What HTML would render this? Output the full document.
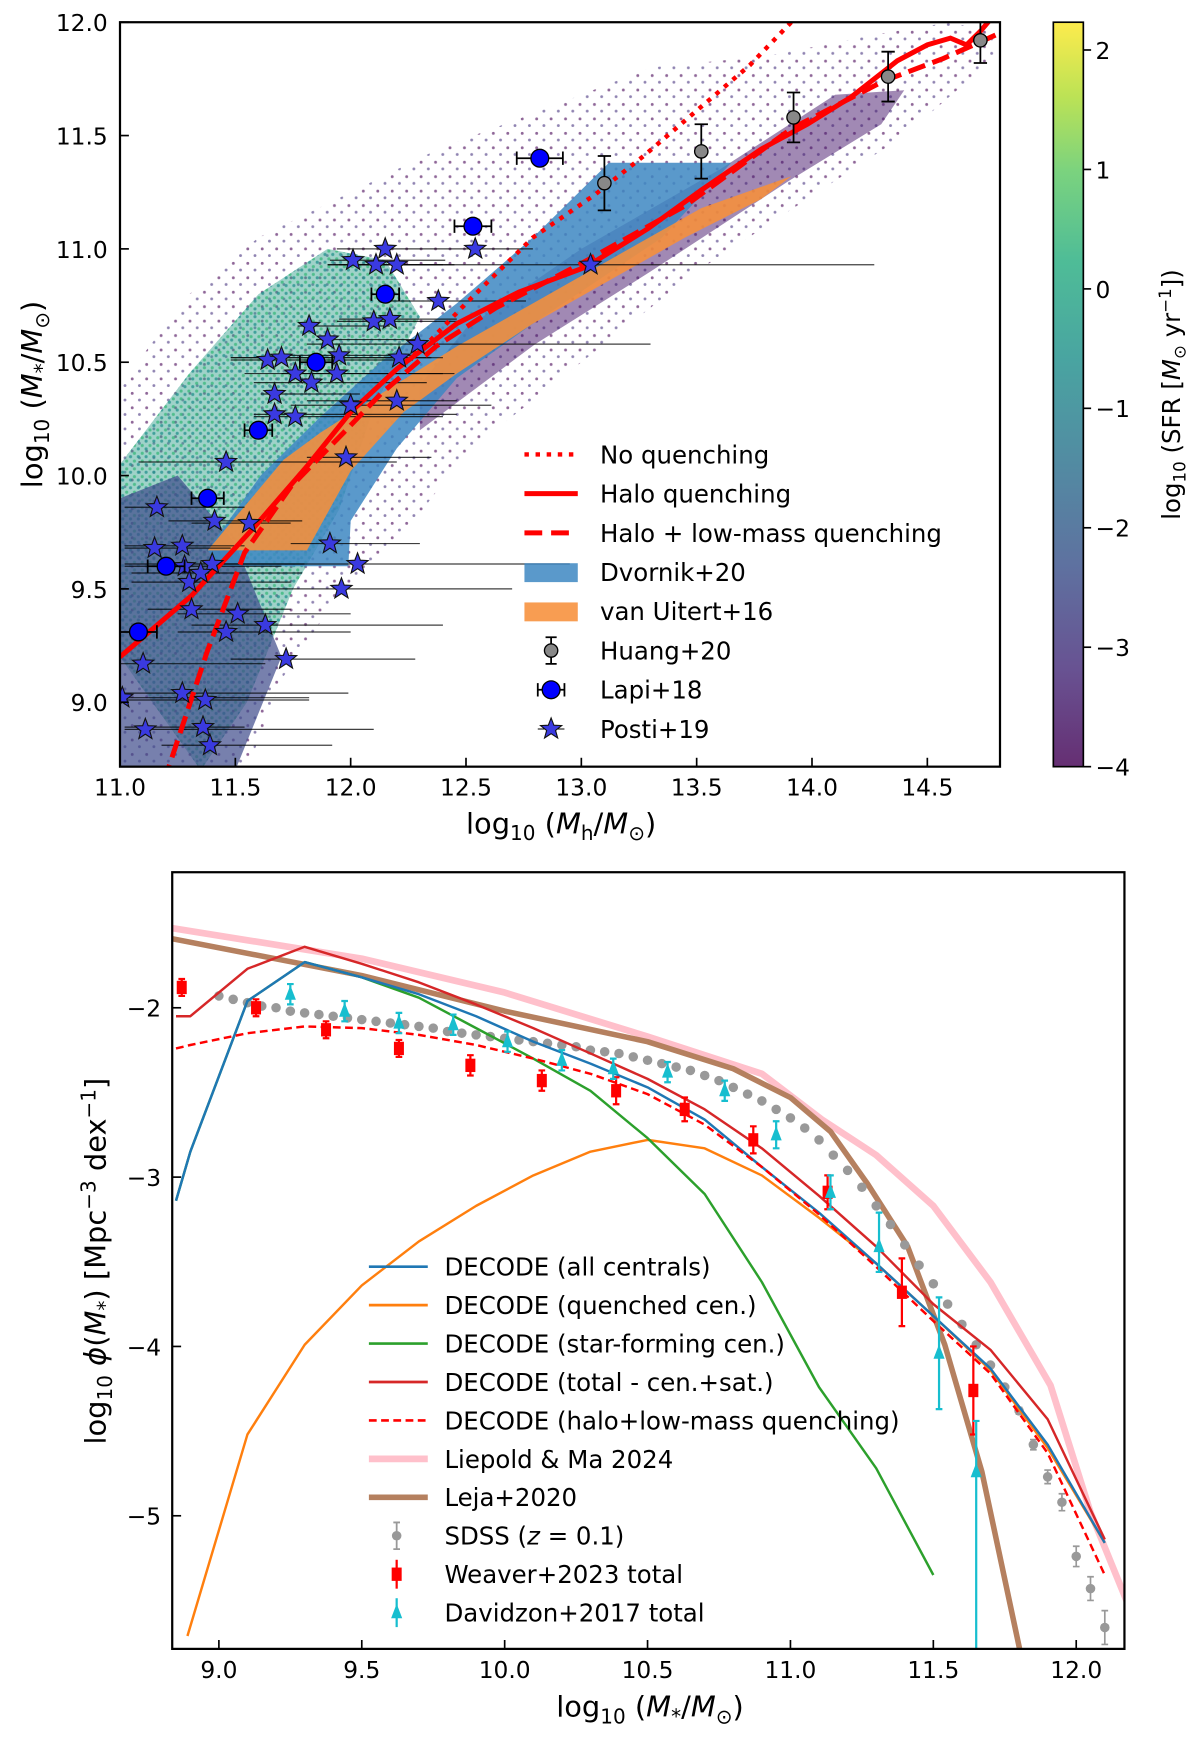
<!DOCTYPE html>
<html><head><meta charset="utf-8">
<style>
html,body{margin:0;padding:0;background:#fff;}
svg{display:block;}
text{font-family:"DejaVu Sans","Liberation Sans",sans-serif;fill:#000;}
</style></head>
<body>
<svg id="fig" xmlns="http://www.w3.org/2000/svg" width="1200" height="1746" viewBox="0 0 1080 1571.4">
<defs>
<clipPath id="clipTop"><rect x="108" y="20" width="792" height="670"/></clipPath>
<clipPath id="clipBot"><rect x="155" y="785" width="857" height="699"/></clipPath>
<linearGradient id="viridis" x1="0" y1="1" x2="0" y2="0">
<stop offset="0" stop-color="#440154"/><stop offset="0.13" stop-color="#472c7a"/>
<stop offset="0.27" stop-color="#3b528b"/><stop offset="0.41" stop-color="#2c728e"/>
<stop offset="0.55" stop-color="#21918c"/><stop offset="0.68" stop-color="#28ae80"/>
<stop offset="0.8" stop-color="#5ec962"/><stop offset="0.9" stop-color="#addc30"/>
<stop offset="1" stop-color="#fde725"/></linearGradient>
<pattern id="dotsPurple" width="13" height="13" patternUnits="userSpaceOnUse"><circle cx="2" cy="3" r="1.3" fill="#440154"/><circle cx="8.5" cy="9" r="1.3" fill="#46327e"/></pattern>
<pattern id="dotsGreen" width="7" height="7" patternUnits="userSpaceOnUse"><circle cx="2" cy="2" r="1.4" fill="#35b779"/><circle cx="5.5" cy="5" r="1.4" fill="#21918c"/></pattern>
</defs>
<g id="top">
  <g id="cloud" clip-path="url(#clipTop)"></g>
  <g id="topMarks" clip-path="url(#clipTop)"></g>
  <rect x="108" y="20" width="792" height="670" fill="none" stroke="#000" stroke-width="2"/>
  <g id="topAxes"></g>
  <text x="505" y="750" text-anchor="middle" font-size="26">log<tspan dy="6" font-size="18">10</tspan><tspan dy="-6"> (</tspan><tspan font-style="italic">M</tspan><tspan dy="6" font-size="18">h</tspan><tspan dy="-6">/</tspan><tspan font-style="italic">M</tspan><tspan dy="6" font-size="18">⊙</tspan><tspan dy="-6">)</tspan></text>
  <text transform="translate(38,355) rotate(-90)" text-anchor="middle" font-size="26">log<tspan dy="6" font-size="18">10</tspan><tspan dy="-6"> (</tspan><tspan font-style="italic">M</tspan><tspan dy="6" font-size="18">*</tspan><tspan dy="-6">/</tspan><tspan font-style="italic">M</tspan><tspan dy="6" font-size="18">⊙</tspan><tspan dy="-6">)</tspan></text>
  <g id="topLegend"></g>
  <rect x="948" y="20" width="27" height="670" fill="url(#viridis)" opacity="0.82"/>
  <rect x="948" y="20" width="27" height="670" fill="none" stroke="#000" stroke-width="1.5"/>
  <g id="cbAxis"></g>
  <text transform="translate(1062,355) rotate(-90)" text-anchor="middle" font-size="22">log<tspan dy="5" font-size="15">10</tspan><tspan dy="-5"> (SFR [</tspan><tspan font-style="italic">M</tspan><tspan dy="5" font-size="15">⊙</tspan><tspan dy="-5"> yr</tspan><tspan dy="-8" font-size="15">−1</tspan><tspan dy="8">])</tspan></text>
</g>
<g id="bot">
  <g id="botMarks" clip-path="url(#clipBot)"></g>
  <rect x="155" y="785" width="857" height="699" fill="none" stroke="#000" stroke-width="2"/>
  <g id="botAxes"></g>
  <text x="585" y="1545" text-anchor="middle" font-size="26">log<tspan dy="6" font-size="18">10</tspan><tspan dy="-6"> (</tspan><tspan font-style="italic">M</tspan><tspan dy="6" font-size="18">*</tspan><tspan dy="-6">/</tspan><tspan font-style="italic">M</tspan><tspan dy="6" font-size="18">⊙</tspan><tspan dy="-6">)</tspan></text>
  <text transform="translate(95,1135) rotate(-90)" text-anchor="middle" font-size="26">log<tspan dy="6" font-size="18">10</tspan><tspan dy="-6"> </tspan><tspan font-style="italic">ϕ</tspan>(<tspan font-style="italic">M</tspan><tspan dy="6" font-size="18">*</tspan><tspan dy="-6">) [Mpc</tspan><tspan dy="-9" font-size="18">−3</tspan><tspan dy="9"> dex</tspan><tspan dy="-9" font-size="18">−1</tspan><tspan dy="9">]</tspan></text>
  <g id="botLegend"></g>
</g>
</svg>
<script>
// ---------- TOP PANEL DATA ----------
const lapiX = [11.08, 11.20, 11.38, 11.60, 11.85, 12.15, 12.53, 12.82];
const lapiY = [9.31, 9.60, 9.90, 10.20, 10.50, 10.80, 11.10, 11.40];
const lapiXerr = [0.08, 0.08, 0.07, 0.06, 0.07, 0.06, 0.08, 0.1];
const huangX = [13.10, 13.52, 13.92, 14.33, 14.73];
const huangY = [11.29, 11.43, 11.58, 11.76, 11.92];
const huangYerr = [0.12, 0.12, 0.11, 0.11, 0.10];
const postiX = [12.01,12.15,12.20,12.11,12.54,12.38,13.04,11.82,11.90,11.95,12.10,12.17,12.29,12.21,11.64,11.70,11.76,11.83,11.94,11.67,11.67,11.76,12.00,12.20,11.98,11.46,11.16,11.41,11.56,11.15,11.27,11.28,11.40,11.30,11.35,11.91,12.03,11.96,11.31,11.51,11.63,11.46,11.72,11.10,11.27,11.37,11.01,11.11,11.36,11.39];
const postiY = [10.95,11.00,10.93,10.93,11.00,10.77,10.93,10.66,10.60,10.53,10.68,10.69,10.58,10.52,10.51,10.52,10.45,10.41,10.45,10.36,10.27,10.26,10.31,10.33,10.08,10.06,9.86,9.80,9.79,9.68,9.69,9.60,9.61,9.53,9.57,9.70,9.61,9.50,9.41,9.39,9.34,9.31,9.19,9.17,9.04,9.01,9.02,8.88,8.89,8.81];
const postiLo = [11.91,11.94,11.95,11.90,12.43,12.13,11.90,11.77,11.85,11.70,11.94,11.95,11.81,11.48,11.48,11.48,11.54,11.58,11.70,11.61,11.58,11.58,11.74,11.81,11.81,11.08,11.02,11.21,11.31,11.02,11.02,11.02,11.02,11.05,11.05,11.74,11.44,11.58,11.12,11.25,11.31,11.25,11.48,11.00,11.02,11.02,11.00,11.02,11.02,11.18];
const postiHi = [12.41,12.43,12.45,12.40,12.79,12.76,14.27,12.17,12.30,12.28,12.48,12.46,13.30,12.40,12.27,12.35,12.40,12.33,12.45,12.04,12.46,12.40,12.61,12.46,12.35,12.20,11.54,11.79,11.74,11.48,11.54,11.70,11.80,11.74,11.79,12.30,12.95,12.70,11.74,12.00,12.40,12.00,12.28,11.63,11.99,11.82,11.82,12.10,11.54,11.92];
const noqX = [11.0,11.31,11.58,11.81,12.0,12.2,12.33,12.5,12.79,13.06,13.27,13.5,13.73,13.91,13.95];
const noqY = [9.2,9.47,9.77,10.04,10.28,10.47,10.58,10.76,11.05,11.24,11.41,11.61,11.81,12.0,12.04];
const haloX = [11.0,11.31,11.58,11.81,12.0,12.2,12.46,12.73,13.02,13.29,13.52,13.78,13.98,14.17,14.37,14.5,14.6,14.67,14.73,14.78,14.82];
const haloY = [9.2,9.47,9.77,10.04,10.28,10.47,10.67,10.81,10.92,11.09,11.26,11.44,11.55,11.67,11.83,11.9,11.93,11.90,11.96,12.02,12.06];
const lowmX = [11.19,11.21,11.38,11.54,11.74,11.97,12.13,12.37,12.63,12.99,13.45,13.91,14.31,14.57,14.81];
const lowmY = [8.65,8.71,9.23,9.66,9.95,10.19,10.36,10.57,10.74,10.93,11.19,11.53,11.74,11.84,11.95];
const dvornikX = [11.43,11.99,12.0,12.2,12.46,12.79,13.35,13.65,13.12,12.79,12.46,12.13,11.87,11.61,11.38];
const dvornikY = [9.60,9.60,9.80,10.12,10.43,10.67,11.05,11.38,11.38,11.05,10.76,10.50,10.26,10.0,9.67];
const uitertX = [11.38,11.81,12.0,12.23,12.46,12.79,13.12,13.45,13.78,13.91,13.52,13.12,12.79,12.46,12.13,11.87,11.71];
const uitertY = [9.67,9.67,10.02,10.28,10.45,10.67,10.86,11.05,11.22,11.32,11.18,10.95,10.76,10.57,10.36,10.19,10.07];
const cbTicks = [-4,-3,-2,-1,0,1,2];
const topXTicks = [11.0,11.5,12.0,12.5,13.0,13.5,14.0,14.5];
const topYTicks = [9.0,9.5,10.0,10.5,11.0,11.5,12.0];
// cloud envelopes (density regions of the scatter)
const envAllX = [11.0,11.0,11.3,11.6,12.0,12.4,12.8,13.3,13.8,14.3,14.6,14.8,14.8,14.4,13.5,13.0,12.5,12.2,11.9,11.7,11.55];
const envAllY = [8.7,10.4,10.8,11.05,11.25,11.45,11.6,11.8,11.85,11.95,12.0,11.95,11.85,11.5,10.9,10.5,10.1,9.7,9.4,9.1,8.7];
const envGreenX = [11.0,11.0,11.3,11.6,11.9,12.15,12.3,12.1,11.95,11.75,11.55,11.35];
const envGreenY = [9.2,10.05,10.45,10.8,11.0,10.95,10.7,10.3,9.85,9.5,9.0,8.7];
const envPurpleX = [12.3,12.8,13.3,13.9,14.3,14.4,14.1,13.6,13.0,12.5,12.3];
const envPurpleY = [10.2,10.58,10.9,11.3,11.55,11.7,11.68,11.35,11.0,10.65,10.4];
const envLowX = [11.0,11.0,11.25,11.5,11.7,11.5,11.3];
const envLowY = [8.7,9.9,10.0,9.7,9.2,8.7,8.7];

// ---------- BOTTOM PANEL DATA ----------
const decX = [8.85,8.9,9.1,9.3,9.5,9.7,9.9,10.1,10.3,10.5,10.7,10.9,11.1,11.3,11.5,11.7,11.9,12.1];
const allCen = [-3.14,-2.85,-1.96,-1.73,-1.82,-1.92,-2.05,-2.20,-2.33,-2.47,-2.66,-2.94,-3.21,-3.51,-3.82,-4.13,-4.58,-5.16];
const sfCenX = [8.85,8.9,9.1,9.3,9.5,9.7,9.9,10.1,10.3,10.5,10.7,10.9,11.1,11.3,11.5];
const sfCen = [-3.14,-2.85,-1.96,-1.73,-1.82,-1.94,-2.12,-2.30,-2.49,-2.77,-3.10,-3.62,-4.24,-4.72,-5.35];
const qCenX = [8.89,9.1,9.3,9.5,9.7,9.9,10.1,10.3,10.5,10.7,10.9,11.1,11.3,11.5,11.7,11.9,12.1];
const qCen = [-5.71,-4.52,-3.99,-3.64,-3.38,-3.17,-2.99,-2.85,-2.78,-2.83,-2.99,-3.24,-3.51,-3.82,-4.14,-4.60,-5.16];
const totX = [8.85,8.9,9.1,9.3,9.5,9.7,9.9,10.1,10.3,10.5,10.7,10.9,11.1,11.3,11.5,11.7,11.9,12.1];
const totY = [-2.05,-2.05,-1.77,-1.64,-1.74,-1.85,-1.98,-2.12,-2.27,-2.42,-2.60,-2.83,-3.11,-3.41,-3.75,-4.02,-4.43,-5.14];
const lmqY = [-2.24,-2.22,-2.15,-2.11,-2.12,-2.16,-2.22,-2.30,-2.39,-2.51,-2.69,-2.94,-3.22,-3.53,-3.85,-4.16,-4.63,-5.35];
const liepX = [8.8,9.5,10.0,10.5,10.9,11.11,11.3,11.5,11.7,11.91,12.05,12.2];
const liepY = [-1.52,-1.71,-1.91,-2.17,-2.39,-2.66,-2.87,-3.17,-3.62,-4.23,-4.98,-5.6];
const lejaX = [8.8,9.5,10.0,10.5,10.8,11.0,11.14,11.27,11.41,11.54,11.67,11.81];
const lejaY = [-1.58,-1.81,-2.02,-2.2,-2.36,-2.53,-2.73,-3.04,-3.41,-3.99,-4.74,-5.85];
const sdssX = [9.00,9.05,9.10,9.15,9.20,9.25,9.30,9.35,9.40,9.45,9.50,9.55,9.60,9.65,9.70,9.75,9.80,9.85,9.90,9.95,10.00,10.05,10.10,10.15,10.20,10.25,10.30,10.35,10.40,10.45,10.50,10.55,10.60,10.65,10.70,10.75,10.80,10.85,10.90,10.95,11.00,11.05,11.10,11.15,11.20,11.25,11.30,11.35,11.40,11.45,11.50,11.55,11.60,11.65,11.70,11.75,11.80,11.85,11.90,11.95,12.00,12.05,12.10];
const sdssY = [-1.93,-1.95,-1.97,-1.99,-2.00,-2.02,-2.03,-2.04,-2.05,-2.06,-2.07,-2.08,-2.09,-2.10,-2.11,-2.12,-2.14,-2.15,-2.16,-2.17,-2.18,-2.19,-2.20,-2.21,-2.22,-2.23,-2.25,-2.26,-2.27,-2.29,-2.31,-2.33,-2.35,-2.37,-2.40,-2.43,-2.47,-2.51,-2.55,-2.60,-2.65,-2.71,-2.78,-2.87,-2.96,-3.06,-3.17,-3.28,-3.40,-3.52,-3.63,-3.75,-3.87,-3.99,-4.11,-4.24,-4.38,-4.58,-4.77,-4.92,-5.24,-5.43,-5.66];
const sdssErr = [0,0,0,0,0,0,0,0,0,0,0,0,0,0,0,0,0,0,0,0,0,0,0,0,0,0,0,0,0,0,0,0,0,0,0,0,0,0,0,0,0,0,0,0,0,0,0,0,0,0,0,0,0,0,0,0,0.02,0.03,0.04,0.05,0.06,0.07,0.1];
const weavX = [8.87,9.13,9.375,9.63,9.88,10.13,10.39,10.63,10.87,11.13,11.39,11.64];
const weavY = [-1.88,-2.00,-2.13,-2.24,-2.34,-2.43,-2.49,-2.60,-2.78,-3.09,-3.68,-4.26];
const weavErr = [0.05,0.05,0.05,0.05,0.06,0.06,0.08,0.07,0.08,0.1,0.2,0.26];
const davX = [9.25,9.44,9.63,9.82,10.01,10.2,10.38,10.57,10.77,10.95,11.14,11.31,11.52,11.65];
const davY = [-1.92,-2.02,-2.09,-2.10,-2.20,-2.31,-2.36,-2.38,-2.49,-2.75,-3.09,-3.41,-4.04,-4.74];
const davErrUp = [0.06,0.06,0.06,0.06,0.06,0.06,0.06,0.06,0.06,0.08,0.1,0.2,0.33,0.3];
const davErrDn = [0.06,0.06,0.06,0.06,0.06,0.06,0.06,0.06,0.06,0.08,0.1,0.15,0.33,2.0];
const botXTicks = [9.0,9.5,10.0,10.5,11.0,11.5,12.0];
const botYTicks = [-2,-3,-4,-5];

// ---------- scales ----------
const X1 = v => 108 + (v - 11) * 207.6;
const Y1 = v => 20 + (12 - v) * 204;
const X2 = v => 197 + (v - 9) * 257.2;
const Y2 = v => 907 - (v + 2) * 152.4;
const CB = v => 690 - (v + 4) * 107.5;
const NS = 'http://www.w3.org/2000/svg';
function mk(tag, attrs, parent){ const e=document.createElementNS(NS,tag); for(const k in attrs) e.setAttribute(k, attrs[k]); parent.appendChild(e); return e; }
function pts(xs, ys, fx, fy){ return xs.map((x,i)=>fx(x).toFixed(1)+','+fy(ys[i]).toFixed(1)).join(' '); }
function starPath(cx, cy, R){ let d=''; for(let i=0;i<10;i++){ const r=i%2?R*0.42:R; const a=-Math.PI/2+i*Math.PI/5; d+=(i?'L':'M')+(cx+r*Math.cos(a)).toFixed(1)+','+(cy+r*Math.sin(a)).toFixed(1);} return d+'Z'; }

const cloud = document.getElementById('cloud');
const tm = document.getElementById('topMarks');
const ta = document.getElementById('topAxes');
const tl = document.getElementById('topLegend');
const bm = document.getElementById('botMarks');
const ba = document.getElementById('botAxes');
const bl = document.getElementById('botLegend');
const cba = document.getElementById('cbAxis');

let e;
e = mk('polygon', {points: pts(envAllX, envAllY, X1, Y1), fill: 'url(#dotsPurple)', opacity: 0.6}, cloud);


e = mk('polygon', {points: pts(envGreenX, envGreenY, X1, Y1), fill: '#2a9c88', opacity: 0.45}, cloud);


e = mk('polygon', {points: pts(envGreenX, envGreenY, X1, Y1), fill: 'url(#dotsGreen)', opacity: 0.75}, cloud);


e = mk('polygon', {points: pts(envLowX, envLowY, X1, Y1), fill: '#3d4a8a', opacity: 0.7}, cloud);


e = mk('polygon', {points: pts(envPurpleX, envPurpleY, X1, Y1), fill: '#44136a', opacity: 0.5}, cloud);



e = mk('polygon', {points: pts(dvornikX, dvornikY, X1, Y1), fill: '#3d87c2', opacity: 0.85}, tm);


e = mk('polygon', {points: pts(uitertX, uitertY, X1, Y1), fill: '#f7903a', opacity: 0.88}, tm);



postiX.forEach((x,i)=>{
  const l = mk('line', {x1: X1(postiLo[i]), x2: X1(postiHi[i]), y1: Y1(postiY[i]), y2: Y1(postiY[i]), stroke: '#000', 'stroke-width': 1.1, opacity: 0.75}, tm);
  
  
});
e = mk('polyline', {points: pts(noqX, noqY, X1, Y1), fill: 'none', stroke: '#ff0000', 'stroke-width': 4, 'stroke-dasharray': '4 6'}, tm);


e = mk('polyline', {points: pts(haloX, haloY, X1, Y1), fill: 'none', stroke: '#ff0000', 'stroke-width': 4.5}, tm);


e = mk('polyline', {points: pts(lowmX, lowmY, X1, Y1), fill: 'none', stroke: '#ff0000', 'stroke-width': 4.5, 'stroke-dasharray': '16 7'}, tm);


postiX.forEach((x,i)=>{
  const s = mk('path', {d: starPath(X1(x), Y1(postiY[i]), 10), fill: '#3a3ae0', stroke: '#111', 'stroke-width': 1}, tm);
  
  
});
lapiX.forEach((x,i)=>{
  const y = Y1(lapiY[i]), x0 = X1(x - lapiXerr[i]), x1 = X1(x + lapiXerr[i]);
  const g = mk('path', {d: `M${x0},${y}H${x1}M${x0},${y-6}V${y+6}M${x1},${y-6}V${y+6}`, stroke: '#000', 'stroke-width': 1.6, fill: 'none'}, tm);
  
  
  const c = mk('circle', {cx: X1(x), cy: y, r: 8, fill: '#0000ff', stroke: '#000', 'stroke-width': 1.2}, tm);
  
  
});
huangX.forEach((x,i)=>{
  const cx = X1(x), y0 = Y1(huangY[i] + huangYerr[i]), y1 = Y1(huangY[i] - huangYerr[i]);
  const g = mk('path', {d: `M${cx},${y0}V${y1}M${cx-6},${y0}H${cx+6}M${cx-6},${y1}H${cx+6}`, stroke: '#000', 'stroke-width': 1.6, fill: 'none'}, tm);
  
  
  const c = mk('circle', {cx: cx, cy: Y1(huangY[i]), r: 6, fill: '#888', stroke: '#000', 'stroke-width': 1.2}, tm);
  
  
});

topXTicks.forEach(v=>{
  const t = mk('line', {x1: X1(v), x2: X1(v), y1: 690, y2: 682, stroke: '#000', 'stroke-width': 1.5}, ta);
  
  
  const s = mk('text', {x: X1(v), y: 716, 'text-anchor': 'middle', 'font-size': 21}, ta);
  s.textContent = v.toFixed(1);
  
  
});
topYTicks.forEach(v=>{
  const t = mk('line', {x1: 108, x2: 116, y1: Y1(v), y2: Y1(v), stroke: '#000', 'stroke-width': 1.5}, ta);
  
  
  const s = mk('text', {x: 97, y: Y1(v) + 8, 'text-anchor': 'end', 'font-size': 21}, ta);
  s.textContent = v.toFixed(1);
  
  
});
cbTicks.forEach(v=>{
  const t = mk('line', {x1: 975, x2: 982, y1: CB(v), y2: CB(v), stroke: '#000', 'stroke-width': 1.5}, cba);
  
  
  const s = mk('text', {x: 986, y: CB(v) + 8, 'font-size': 21}, cba);
  s.textContent = v < 0 ? '−' + Math.abs(v) : String(v);
  
  
});

const topLegLabels = ['No quenching','Halo quenching','Halo + low-mass quenching','Dvornik+20','van Uitert+16','Huang+20','Lapi+18','Posti+19'];
topLegLabels.forEach((lab,i)=>{
  const y = 409 + i * 35.3;
  const s = mk('text', {x: 540, y: y + 8, 'font-size': 22}, tl);
  s.textContent = lab;
  
  
  let m;
  if (i === 0) m = mk('line', {x1: 472, x2: 518, y1: y, y2: y, stroke: '#f00', 'stroke-width': 4, 'stroke-dasharray': '4 6'}, tl);
  else if (i === 1) m = mk('line', {x1: 472, x2: 520, y1: y, y2: y, stroke: '#f00', 'stroke-width': 4.5}, tl);
  else if (i === 2) m = mk('line', {x1: 472, x2: 520, y1: y, y2: y, stroke: '#f00', 'stroke-width': 4.5, 'stroke-dasharray': '16 8'}, tl);
  else if (i === 3) m = mk('rect', {x: 472, y: y - 8, width: 48, height: 17, fill: '#3d87c2', opacity: 0.85}, tl);
  else if (i === 4) m = mk('rect', {x: 472, y: y - 8, width: 48, height: 17, fill: '#f7903a', opacity: 0.88}, tl);
  else if (i === 5) { m = mk('path', {d: `M496,${y-12}V${y+12}M491,${y-12}H501M491,${y+12}H501`, stroke: '#000', 'stroke-width': 1.6}, tl); const c = mk('circle', {cx: 496, cy: y, r: 6, fill: '#888', stroke: '#000', 'stroke-width': 1.2}, tl);   }
  else if (i === 6) { m = mk('path', {d: `M484,${y}H508M484,${y-6}V${y+6}M508,${y-6}V${y+6}`, stroke: '#000', 'stroke-width': 1.6}, tl); const c = mk('circle', {cx: 496, cy: y, r: 8, fill: '#0000ff', stroke: '#000', 'stroke-width': 1.2}, tl);   }
  else { mk('line', {x1: 484, x2: 508, y1: y, y2: y, stroke: '#000', 'stroke-width': 1}, tl); m = mk('path', {d: starPath(496, y, 10), fill: '#3a3ae0', stroke: '#111', 'stroke-width': 1}, tl); }
  
  
});

function bline(xs, ys, color, w, name, dash){
  const l = mk('polyline', {points: pts(xs, ys, X2, Y2), fill: 'none', stroke: color, 'stroke-width': w, 'stroke-linejoin': 'round'}, bm);
  if (dash) l.setAttribute('stroke-dasharray', dash);
  
  
}
bline(liepX, liepY, '#ffc0cb', 6, 'liepold-ma-2024-line');
bline(lejaX, lejaY, '#b5805f', 5, 'leja-2020-line');
sdssX.forEach((x,i)=>{
  if (sdssErr[i] > 0) {
    const g = mk('path', {d: `M${X2(x)},${Y2(sdssY[i]+sdssErr[i])}V${Y2(sdssY[i]-sdssErr[i])}M${X2(x)-3},${Y2(sdssY[i]+sdssErr[i])}h6M${X2(x)-3},${Y2(sdssY[i]-sdssErr[i])}h6`, stroke: '#999', 'stroke-width': 1.5, fill: 'none'}, bm);
    
    
  }
  const c = mk('circle', {cx: X2(x), cy: Y2(sdssY[i]), r: 4.3, fill: '#999'}, bm);
  
  
});
bline(qCenX, qCen, '#ff7f0e', 2.2, 'decode-quenched-line');
bline(sfCenX, sfCen, '#2ca02c', 2.2, 'decode-star-forming-line');
bline(decX, allCen, '#1f77b4', 2.2, 'decode-all-centrals-line');
bline(totX, totY, '#d62728', 2.2, 'decode-total-line');
bline(totX, lmqY, '#ff0000', 2.2, 'decode-halo-low-mass-line', '7 4');
weavX.forEach((x,i)=>{
  const cx = X2(x), y0 = Y2(weavY[i] + weavErr[i]), y1 = Y2(weavY[i] - weavErr[i]);
  const g = mk('path', {d: `M${cx},${y0}V${y1}M${cx-3},${y0}h6M${cx-3},${y1}h6`, stroke: '#f00', 'stroke-width': 2, fill: 'none'}, bm);
  
  
  const r = mk('rect', {x: cx - 4.5, y: Y2(weavY[i]) - 6, width: 9, height: 12, fill: '#f00'}, bm);
  
  
});
davX.forEach((x,i)=>{
  const cx = X2(x), y0 = Y2(davY[i] + davErrUp[i]), y1 = Y2(davY[i] - davErrDn[i]);
  const g = mk('path', {d: `M${cx},${y0}V${y1}M${cx-3},${y0}h6M${cx-3},${y1}h6`, stroke: '#17becf', 'stroke-width': 2, fill: 'none'}, bm);
  
  
  const cy = Y2(davY[i]);
  const t = mk('polygon', {points: `${cx},${cy-8} ${cx-5},${cy+5} ${cx+5},${cy+5}`, fill: '#17becf'}, bm);
  
  
});

botXTicks.forEach(v=>{
  const t = mk('line', {x1: X2(v), x2: X2(v), y1: 1484, y2: 1476, stroke: '#000', 'stroke-width': 1.5}, ba);
  
  
  const s = mk('text', {x: X2(v), y: 1510, 'text-anchor': 'middle', 'font-size': 21}, ba);
  s.textContent = v.toFixed(1);
  
  
});
botYTicks.forEach(v=>{
  const t = mk('line', {x1: 155, x2: 163, y1: Y2(v), y2: Y2(v), stroke: '#000', 'stroke-width': 1.5}, ba);
  
  
  const s = mk('text', {x: 145, y: Y2(v) + 8, 'text-anchor': 'end', 'font-size': 21}, ba);
  s.textContent = '−' + Math.abs(v);
  
  
});

const botLegLabels = ['DECODE (all centrals)','DECODE (quenched cen.)','DECODE (star-forming cen.)','DECODE (total - cen.+sat.)','DECODE (halo+low-mass quenching)','Liepold & Ma 2024','Leja+2020','SDSS (z = 0.1)','Weaver+2023 total','Davidzon+2017 total'];
const botLegColors = ['#1f77b4','#ff7f0e','#2ca02c','#d62728','#ff0000','#ffc0cb','#b5805f','#999','#f00','#17becf'];
botLegLabels.forEach((lab,i)=>{
  const y = 1140 + i * 34.6;
  const s = mk('text', {x: 400, y: y + 8, 'font-size': 22}, bl);
  if (i === 7) { s.innerHTML = 'SDSS (<tspan font-style="italic">z</tspan> = 0.1)'; } else { s.textContent = lab; }
  
  
  let m;
  const col = botLegColors[i];
  if (i < 5) { m = mk('line', {x1: 332, x2: 385, y1: y, y2: y, stroke: col, 'stroke-width': 2.4}, bl); if (i === 4) m.setAttribute('stroke-dasharray', '7 4'); }
  else if (i < 7) m = mk('line', {x1: 332, x2: 385, y1: y, y2: y, stroke: col, 'stroke-width': i === 5 ? 6 : 5}, bl);
  else if (i === 7) { m = mk('path', {d: `M357,${y-12}V${y+12}M354,${y-12}h6M354,${y+12}h6`, stroke: col, 'stroke-width': 1.6}, bl); const c = mk('circle', {cx: 357, cy: y, r: 4.3, fill: col}, bl);   }
  else if (i === 8) { m = mk('path', {d: `M357,${y-13}V${y+13}`, stroke: col, 'stroke-width': 2}, bl); const r = mk('rect', {x: 352.5, y: y - 6, width: 9, height: 12, fill: col}, bl);   }
  else { m = mk('path', {d: `M357,${y-13}V${y+13}`, stroke: col, 'stroke-width': 2}, bl); const t = mk('polygon', {points: `357,${y-8} 352,${y+5} 362,${y+5}`, fill: col}, bl);   }
  
  
});
</script>
</body></html>
